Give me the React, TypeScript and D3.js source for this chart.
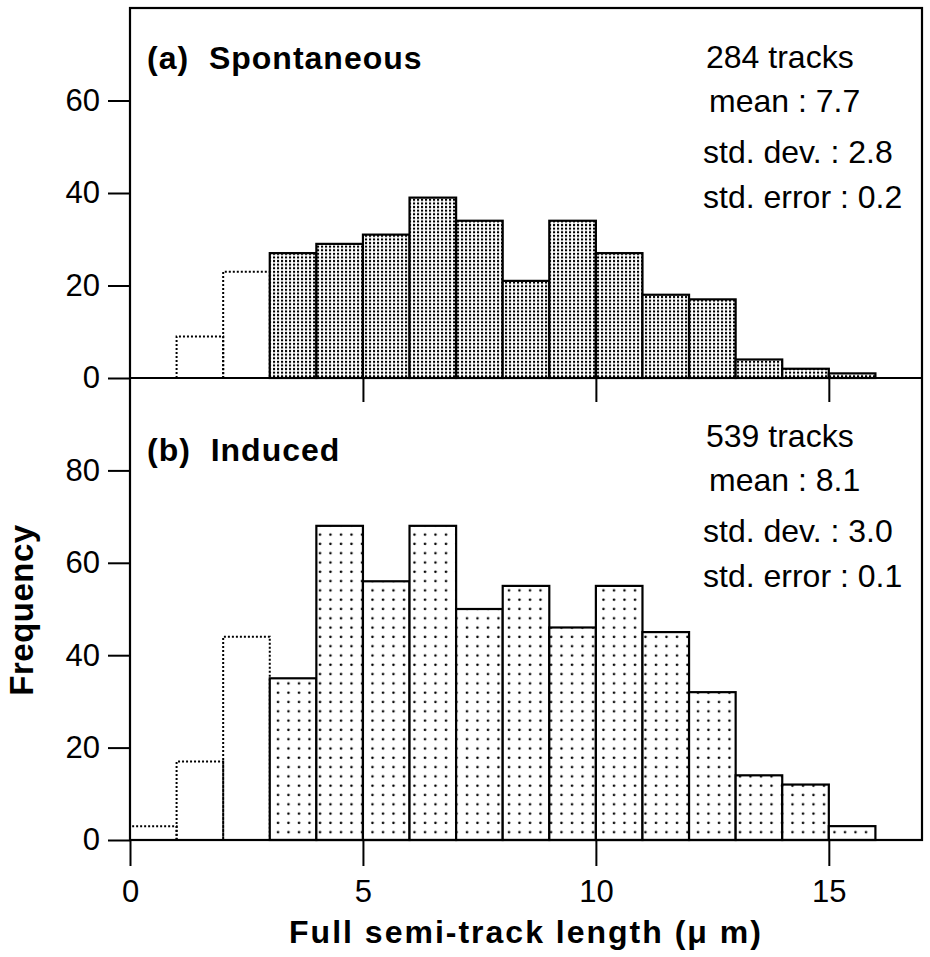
import React, { useRef, useEffect } from 'react'
import { select, scaleLinear, axisLeft, axisBottom } from 'd3'

// histogram bins, 1 um wide
const binEdges = [0, 1, 2, 3, 4, 5, 6, 7, 8, 9, 10, 11, 12, 13, 14, 15, 16]
const spontaneous = [0, 9, 23, 27, 29, 31, 39, 34, 21, 34, 27, 18, 17, 4, 2, 1]
const induced = [3, 17, 44, 35, 68, 56, 68, 50, 55, 46, 55, 45, 32, 14, 12, 3]
// bins shorter than this are drawn dotted (not counted)
const cutoff = 3

const xTicks = [0, 5, 10, 15]
const topTicks = [0, 20, 40, 60]
const bottomTicks = [0, 20, 40, 60, 80]

const spontaneousStats = ['284 tracks', 'mean : 7.7', 'std. dev. : 2.8', 'std. error : 0.2']
const inducedStats = ['539 tracks', 'mean : 8.1', 'std. dev. : 3.0', 'std. error : 0.1']

const font = '"Liberation Sans", Arial, Helvetica, sans-serif'

export default function App() {
  const canvas = useRef(null)

  const width = 930
  const height = 957
  const margin = { top: 8, right: 8, bottom: 117, left: 130 }
  const mid = 378

  useEffect(() => {
    const svg = select(canvas.current)
    svg.selectAll('*').remove()

    const x = scaleLinear().domain([0, 17]).range([margin.left, width - margin.right])
    const yTop = scaleLinear().domain([0, 80]).range([mid, margin.top])
    const yBot = scaleLinear().domain([0, 100]).range([height - margin.bottom, mid])

    const defs = svg.append('defs')
    const dense = defs.append('pattern').attr('id', 'dense').attr('patternUnits', 'userSpaceOnUse').attr('width', 4).attr('height', 3.6)
    dense.append('rect').attr('width', 4).attr('height', 3.6).attr('fill', 'white')
    dense.append('rect').attr('x', 1).attr('y', 0.8).attr('width', 2.1).attr('height', 2.1).attr('fill', 'black')

    const sparse = defs.append('pattern').attr('id', 'sparse').attr('patternUnits', 'userSpaceOnUse').attr('width', 10.5).attr('height', 9.3)
    sparse.append('rect').attr('width', 10.5).attr('height', 9.3).attr('fill', 'white')
    sparse.append('circle').attr('cx', 5).attr('cy', 4.5).attr('r', 1.3).attr('fill', 'black')

    function panel(y, counts, fill, ticks, title, titleY, stats, statsY) {
      const y0 = y(0)
      counts.forEach((c, i) => {
        if (c === 0) return
        const x0 = x(binEdges[i])
        const x1 = x(binEdges[i + 1])
        if (binEdges[i] < cutoff) {
          svg.append('path')
            .attr('d', `M${x0},${y0}V${y(c)}H${x1}V${y0}`)
            .attr('fill', 'none').attr('stroke', 'black').attr('stroke-width', 2)
            .attr('stroke-dasharray', '2,2')
        } else {
          svg.append('rect')
            .attr('x', x0).attr('y', y(c)).attr('width', x1 - x0).attr('height', y0 - y(c))
            .attr('fill', `url(#${fill})`).attr('stroke', 'black').attr('stroke-width', 2.2)
        }
      })

      const yAxis = svg.append('g').attr('transform', `translate(${margin.left},0)`)
        .call(axisLeft(y).tickValues(ticks).tickSize(22).tickPadding(8).tickFormat(d => String(d)))
      yAxis.select('.domain').remove()
      yAxis.selectAll('line').attr('stroke-width', 2)
      yAxis.selectAll('text').attr('font-size', 31).attr('font-family', font).attr('fill', 'black')

      svg.append('text').attr('x', 147).attr('y', titleY)
        .style('white-space', 'pre')
        .attr('font-family', font).attr('font-weight', 'bold').attr('font-size', 32)
        .attr('letter-spacing', 1)
        .text(title)

      const dx = [3, 6, 0, 0]
      const gaps = [0, 44, 95, 140]
      stats.forEach((s, i) => {
        svg.append('text').attr('x', 703 + dx[i]).attr('y', statsY + gaps[i])
          .attr('font-family', font).attr('font-size', 32)
          .text(s)
      })
    }

    panel(yTop, spontaneous, 'dense', topTicks, '(a)  Spontaneous', 69, spontaneousStats, 68)
    panel(yBot, induced, 'sparse', bottomTicks, '(b)  Induced', 461, inducedStats, 447)

    // top panel baseline with short ticks hanging into the lower panel
    const midAxis = svg.append('g').attr('transform', `translate(0,${mid})`)
      .call(axisBottom(x).tickValues(xTicks.slice(1)).tickSize(24).tickFormat(() => ''))
    midAxis.select('.domain').remove()
    midAxis.selectAll('line').attr('stroke-width', 2)

    const xAxis = svg.append('g').attr('transform', `translate(0,${height - margin.bottom})`)
      .call(axisBottom(x).tickValues(xTicks).tickSize(26).tickPadding(14))
    xAxis.select('.domain').remove()
    xAxis.selectAll('line').attr('stroke-width', 2)
    xAxis.selectAll('text').attr('font-size', 31).attr('font-family', font).attr('fill', 'black')

    // frame
    svg.append('rect')
      .attr('x', margin.left).attr('y', margin.top)
      .attr('width', width - margin.left - margin.right).attr('height', height - margin.top - margin.bottom)
      .attr('fill', 'none').attr('stroke', 'black').attr('stroke-width', 2.2)
    svg.append('line')
      .attr('x1', margin.left).attr('x2', width - margin.right).attr('y1', mid).attr('y2', mid)
      .attr('stroke', 'black').attr('stroke-width', 2.2)

    svg.append('text')
      .attr('transform', `translate(33,${610}) rotate(-90)`)
      .attr('text-anchor', 'middle')
      .attr('font-family', font).attr('font-weight', 'bold').attr('font-size', 33)
      .attr('letter-spacing', 0.5)
      .text('Frequency')

    svg.append('text')
      .attr('x', (margin.left + width - margin.right) / 2).attr('y', 943)
      .attr('text-anchor', 'middle')
      .style('white-space', 'pre')
      .attr('font-family', font).attr('font-weight', 'bold').attr('font-size', 32)
      .attr('letter-spacing', 2)
      .text('Full semi-track length (\u03bc m)')
  })

  return (
    <svg ref={canvas} width={width} height={height} style={{ position: 'absolute', left: 0, top: 0, background: 'white' }} />
  )
}
